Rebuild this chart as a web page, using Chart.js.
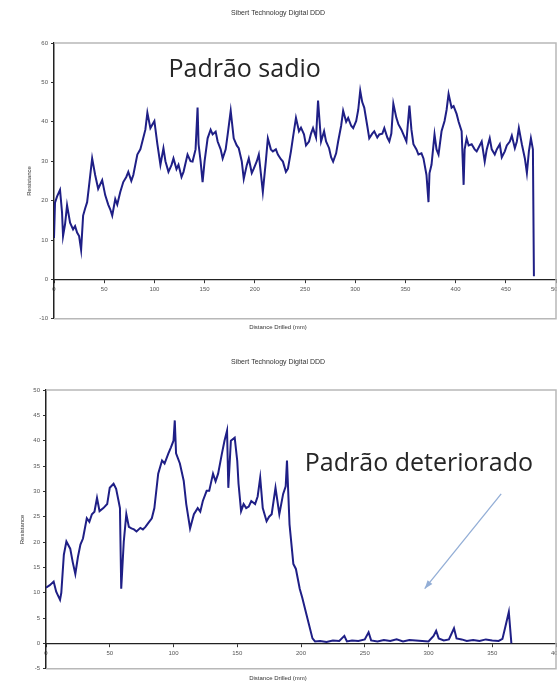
<!DOCTYPE html>
<html>
<head>
<meta charset="utf-8">
<script src="https://cdn.jsdelivr.net/npm/chart.js@4/dist/chart.umd.min.js"></script>
<style>
  html, body { margin: 0; padding: 0; background: #fff; }
  .box { position: absolute; left: 0; width: 557px; }
</style>
</head>
<body>
<div class="box" style="top:0;height:340px"><canvas id="topChart" width="557" height="340"></canvas></div>
<div class="box" style="top:340px;height:342px"><canvas id="bottomChart" width="557" height="342"></canvas></div>
<script>
// Data (distance drilled in mm, resistance)
const chartTitle = 'Sibert Technology Digital DDD';
const xTitle = 'Distance Drilled (mm)';
const yTitle = 'Resistance';

// healthy pattern
const distTop = [0, 1, 3, 6, 8, 9, 11, 13, 16, 19, 21, 23, 25, 27, 29, 31, 33, 35, 38, 41, 44, 48, 51, 54, 56, 58,
  61, 63, 66, 69, 72, 74, 77, 79, 83, 86, 88, 91, 93, 96, 100, 103, 106, 109, 111, 114, 117, 119, 122, 124, 127,
  129, 133, 136, 138, 141, 143, 144, 146, 148, 150, 153, 156, 158, 161, 163, 166, 168, 171, 173, 176, 179, 182,
  184, 187, 189, 192, 194, 197, 199, 202, 204, 206, 208, 211, 213, 216, 218, 221, 223, 226, 228, 231, 233, 236,
  238, 241, 244, 246, 249, 251, 254, 256, 258, 261, 263, 266, 269, 271, 274, 276, 278, 281, 283, 286, 288, 291,
  293, 296, 298, 301, 303, 305, 307, 309, 312, 314, 317, 319, 322, 324, 327, 329, 332, 334, 336, 338, 341, 343,
  346, 348, 351, 354, 356, 358, 361, 363, 366, 368, 371, 373, 374, 376, 379, 381, 383, 386, 389, 391, 393, 396,
  398, 401, 403, 406, 408, 409, 411, 413, 416, 419, 421, 424, 426, 429, 431, 434, 436, 439, 441, 444, 446, 449,
  451, 454, 456, 459, 461, 463, 466, 469, 471, 473, 475, 477, 478];
const resTop = [10.5, 19.5, 21, 22.7, 17, 11, 14, 18.8, 14.4, 12.7, 13.5, 11.9, 11, 7.5, 16.2, 18, 19.6, 24, 30.7,
  26.5, 23, 25.2, 21.4, 19, 17.8, 16.2, 20.4, 19, 22.2, 24.7, 26, 27.3, 25, 26.5, 31.7, 33, 35, 38, 42.3, 38.4,
  40.2, 34.3, 29.1, 33.3, 30, 27.3, 29, 30.7, 28, 29.1, 26, 27.3, 31.7, 30, 29.9, 33, 43.6, 34.3, 30, 24.7, 30,
  35.8, 38, 36.8, 37.5, 35, 33, 30.7, 33, 36.8, 42.8, 35.8, 34, 33.3, 30, 25.5, 29, 30.7, 27, 28.1, 30, 31.7, 27,
  22.2, 30, 35.8, 33, 32.5, 33, 31.7, 30.5, 29.9, 27.3, 28.1, 32.5, 36, 41, 37.6, 38.5, 36.8, 34, 35, 37, 38.4,
  36, 45.4, 35, 37.6, 35, 33.3, 31, 29.9, 32, 35, 39, 42.8, 40, 41, 39, 38.4, 40.2, 43, 47.9, 45, 43.6, 39, 35.8,
  37, 37.6, 36, 36.8, 37, 38.4, 36, 35, 37, 44.6, 41, 39.4, 38, 36.8, 35, 44.1, 38, 34.3, 33, 31.7, 32, 30.7,
  26.5, 19.6, 27, 29.1, 36.8, 33, 31.7, 37.6, 40.2, 43, 47.1, 43.6, 44, 42, 40, 37.6, 24, 33, 35.8, 34, 34.3, 33,
  32.5, 34, 35, 29.9, 33, 35.8, 33, 31.7, 33, 34.3, 31, 32.5, 34, 35, 36.5, 33.3, 35, 38.4, 34.3, 30.7, 27, 32.5,
  35.8, 33, 0.8];

// deteriorated pattern
const distBottom = [0, 3, 6, 8, 11, 12, 14, 16, 19, 21, 23, 25, 27, 29, 32, 34, 36, 38, 40, 42, 45, 48, 50, 53, 55,
  57, 58, 59, 61, 63, 65, 67, 69, 71, 74, 76, 78, 80, 83, 85, 88, 91, 93, 96, 98, 100, 101, 102, 105, 108, 110,
  113, 116, 119, 121, 123, 126, 128, 131, 133, 135, 138, 140, 142, 143, 145, 148, 150, 151, 153, 155, 157, 159,
  161, 164, 166, 168, 170, 173, 175, 177, 180, 183, 186, 188, 189, 191, 194, 196, 199, 201, 203, 206, 209, 211,
  215, 220, 225, 230, 234, 236, 240, 245, 250, 253, 255, 260, 265, 270, 275, 280, 285, 290, 295, 300, 304, 306,
  308, 312, 316, 320, 322, 326, 330, 335, 340, 345, 350, 355, 358, 360, 363, 365];
const resBottom = [11, 11.5, 12.2, 10.2, 8.6, 10, 17.5, 20.1, 18.7, 16, 13.7, 17, 19.5, 20.7, 24.7, 24, 25.5, 26,
  28.7, 26.1, 26.7, 27.5, 30.7, 31.5, 30.5, 28, 26.7, 10.8, 20.1, 25.5, 23, 22.7, 22.5, 22.1, 22.8, 22.5, 23,
  23.7, 24.7, 26.7, 33.5, 36.1, 35.5, 37.5, 38.7, 40, 44, 37.5, 35.5, 32.1, 27.5, 22.7, 25.5, 26.7, 26, 28.1,
  30.1, 30.1, 33.5, 32, 33.5, 37.5, 40, 42, 30.7, 40, 40.6, 36, 31.5, 26.1, 27.5, 26.7, 27, 28.1, 27.5, 29, 32.7,
  26.7, 24.1, 25, 25.5, 30.7, 25.5, 29.5, 31, 36.1, 23.5, 15.7, 14.7, 10.8, 9, 7, 4, 1, 0.4, 0.5, 0.3, 0.6, 0.5,
  1.5, 0.4, 0.6, 0.5, 0.8, 2.2, 0.6, 0.4, 0.7, 0.5, 0.8, 0.4, 0.7, 0.6, 0.5, 0.4, 1.5, 2.5, 1, 0.6, 0.8, 3, 1,
  0.8, 0.5, 0.7, 0.5, 0.8, 0.6, 0.5, 0.9, 3, 6.2, 0];

const lineColor = '#1f1f86';
const tickFont = { family: 'Liberation Sans', size: 6 };

// light frame on top/right/bottom, the left axis stays black
const framePlugin = {
  id: 'frame',
  beforeDatasetsDraw(chart) {
    const { ctx, chartArea: a } = chart;
    ctx.save();
    ctx.strokeStyle = '#b8b8b8';
    ctx.lineWidth = 1.5;
    ctx.beginPath();
    ctx.moveTo(a.left, a.top);
    ctx.lineTo(a.right, a.top);
    ctx.lineTo(a.right, a.bottom);
    ctx.lineTo(a.left, a.bottom);
    ctx.stroke();
    ctx.restore();
  }
};

// big caption text (+ optional arrow), positioned in data units
const notePlugin = {
  id: 'note',
  afterDatasetsDraw(chart, args, opts) {
    if (!opts || !opts.text) return;
    const { ctx, scales: { x, y } } = chart;
    ctx.save();
    ctx.font = '25px "Open Sans"';
    ctx.fillStyle = '#262626';
    ctx.textBaseline = 'alphabetic';
    ctx.fillText(opts.text, x.getPixelForValue(opts.x), y.getPixelForValue(opts.y));
    if (opts.arrow) {
      const [x0, y0, x1, y1] = opts.arrow;
      const ax = x.getPixelForValue(x0), ay = y.getPixelForValue(y0);
      const bx = x.getPixelForValue(x1), by = y.getPixelForValue(y1);
      ctx.strokeStyle = '#93aed6';
      ctx.fillStyle = '#93aed6';
      ctx.lineWidth = 1.3;
      ctx.beginPath();
      ctx.moveTo(ax, ay);
      ctx.lineTo(bx, by);
      ctx.stroke();
      const ang = Math.atan2(by - ay, bx - ax);
      ctx.beginPath();
      ctx.moveTo(bx, by);
      ctx.lineTo(bx - 9 * Math.cos(ang - 0.35), by - 9 * Math.sin(ang - 0.35));
      ctx.lineTo(bx - 9 * Math.cos(ang + 0.35), by - 9 * Math.sin(ang + 0.35));
      ctx.closePath();
      ctx.fill();
    }
    ctx.restore();
  }
};

function makeChart(id, cfg) {
  const pts = cfg.xs.map((v, i) => ({ x: v, y: cfg.ys[i] }));
  return new Chart(document.getElementById(id), {
    type: 'line',
    data: {
      datasets: [{
        data: pts,
        borderColor: lineColor,
        borderWidth: 2,
        pointRadius: 0,
        tension: 0,
        fill: false
      }]
    },
    options: {
      responsive: false,
      animation: false,
      layout: { padding: { left: 0, right: 1, top: 0, bottom: 0 } },
      plugins: {
        legend: { display: false },
        tooltip: { enabled: false },
        title: {
          display: true,
          text: chartTitle,
          color: '#333',
          font: { family: 'Liberation Sans', size: 7, weight: 'normal' },
          padding: cfg.titlePad
        },
        subtitle: {
          display: true,
          position: 'bottom',
          text: xTitle,
          color: '#333',
          font: { family: 'Liberation Sans', size: 6 },
          padding: cfg.subPad
        },
        note: cfg.note
      },
      scales: {
        x: {
          type: 'linear',
          position: { y: 0 },
          min: 0,
          max: cfg.xMax,
          ticks: { stepSize: 50, font: tickFont, color: '#555', padding: 3, maxRotation: 0 },
          grid: { drawOnChartArea: false, drawTicks: true, tickLength: 3, color: '#333' },
          border: { display: true, color: '#222', width: 1.2 },
          afterFit(s) { s.paddingLeft = 0; s.paddingRight = 0; }
        },
        y: {
          min: cfg.yMin,
          max: cfg.yMax,
          ticks: { stepSize: cfg.yStep, font: tickFont, color: '#555', padding: 3 },
          grid: { drawOnChartArea: false, drawTicks: true, tickLength: 3, color: '#333' },
          border: { display: true, color: '#222', width: 1.5 },
          title: {
            display: true,
            text: yTitle,
            color: '#333',
            font: { family: 'Liberation Sans', size: 6 },
            padding: { top: cfg.yTitlePad, bottom: 0 }
          },
          afterFit(s) { s.width = cfg.yWidth; s.paddingTop = 0; s.paddingBottom = 0; }
        }
      }
    },
    plugins: [framePlugin, notePlugin]
  });
}

makeChart('topChart', {
  xs: distTop, ys: resTop,
  xMax: 500, yMin: -10, yMax: 60, yStep: 10, yWidth: 54, yTitlePad: 26,
  titlePad: { top: 9, bottom: 25.6 },
  subPad: { top: 5, bottom: 9 },
  note: { text: 'Padrão sadio', x: 114, y: 51.3 }
});

makeChart('bottomChart', {
  xs: distBottom, ys: resBottom,
  xMax: 400, yMin: -5, yMax: 50, yStep: 5, yWidth: 46, yTitlePad: 19,
  titlePad: { top: 18, bottom: 23.6 },
  subPad: { top: 6, bottom: 0 },
  note: { text: 'Padrão deteriorado', x: 203, y: 34.1, arrow: [357, 29.5, 297, 10.8] }
});
</script>
</body>
</html>
